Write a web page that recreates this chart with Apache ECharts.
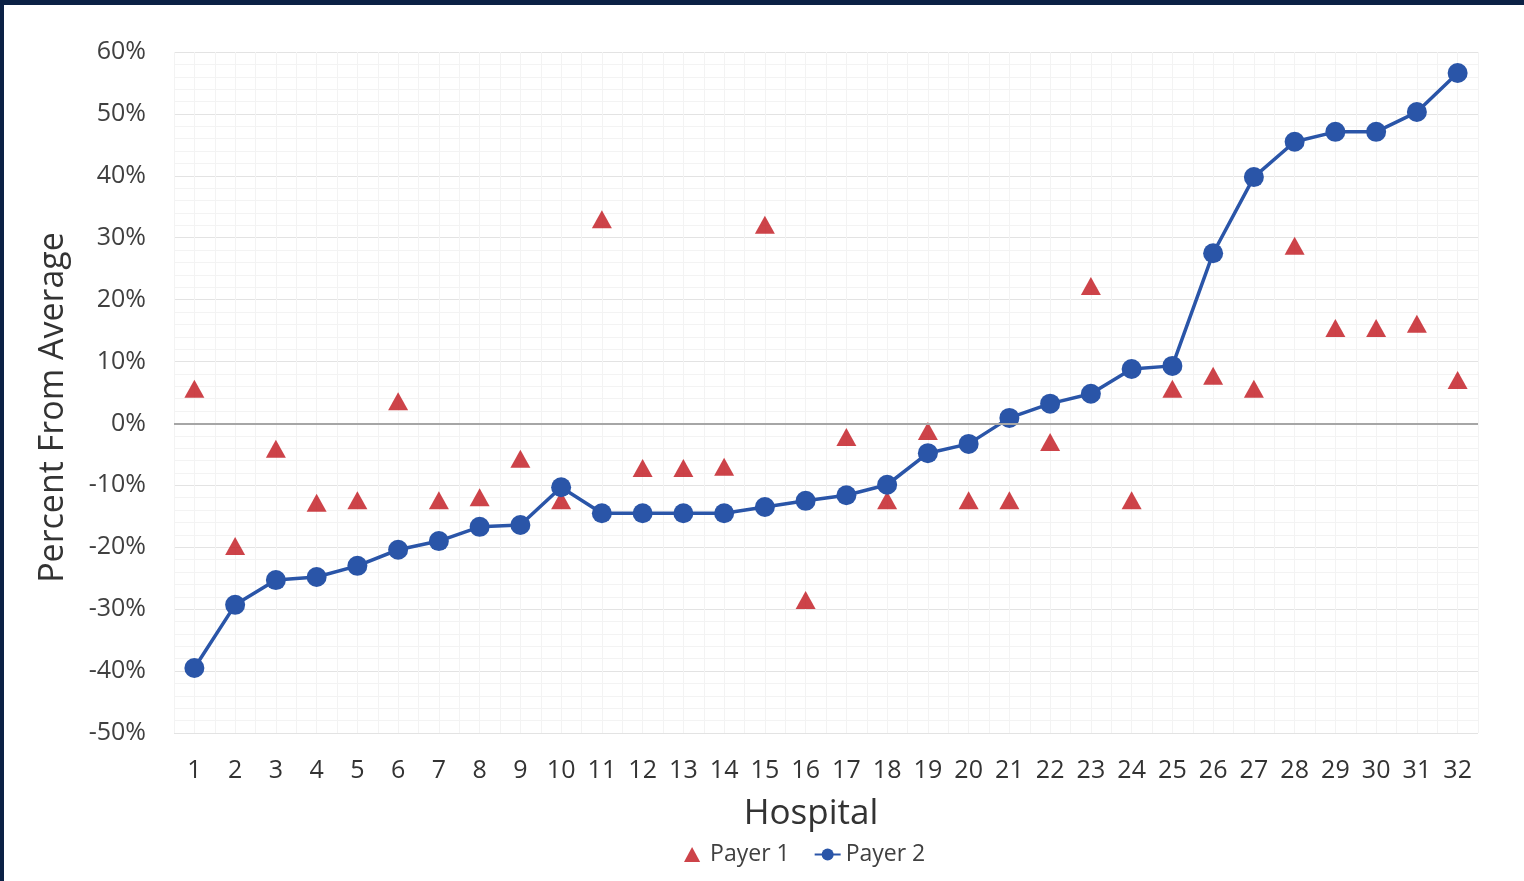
<!DOCTYPE html>
<html>
<head>
<meta charset="utf-8">
<script src="https://cdn.jsdelivr.net/npm/echarts@6/dist/echarts.min.js"></script>
<style>
html,body{margin:0;padding:0;background:#fff;}
#frame{position:absolute;left:0;top:0;width:1524px;height:881px;background:#fff;border-top:5px solid #0b2145;border-left:4px solid #0b2145;box-sizing:border-box;}
#chart{position:absolute;left:0;top:0;width:1524px;height:881px;}
</style>
</head>
<body>
<div id="frame"></div>
<div id="chart"></div>
<script>
const hospitals = ['1','2','3','4','5','6','7','8','9','10','11','12','13','14','15','16','17','18','19','20','21','22','23','24','25','26','27','28','29','30','31','32'];
const payer1 = [5.6,-19.8,-4.1,-12.8,-12.4,3.6,-12.4,-11.9,-5.7,-12.4,33.0,-7.2,-7.2,-7.0,32.1,-28.5,-2.2,-12.4,-1.2,-12.4,-12.4,-3.0,22.2,-12.4,5.6,7.7,5.6,28.7,15.4,15.4,16.1,7.0];
const payer2 = [-39.5,-29.3,-25.3,-24.8,-23.0,-20.4,-19.0,-16.7,-16.4,-10.3,-14.5,-14.5,-14.5,-14.5,-13.5,-12.5,-11.6,-9.9,-4.8,-3.3,0.9,3.2,4.8,8.8,9.3,27.5,39.8,45.5,47.1,47.1,50.3,56.6];
const halfSlots = hospitals.flatMap(h => [h + 'a', h + 'b']);

const RED = '#c0141c';
const BLUE = '#2a55a8';
const chart = echarts.init(document.getElementById('chart'), null, {renderer: 'canvas'});
const font = '"Open Sans", "Noto Sans", sans-serif';
chart.setOption({
  backgroundColor: 'transparent',
  animation: false,
  textStyle: {fontFamily: font},
  grid: {left: 174, right: 46, top: 52, bottom: 148},
  legend: {
    data: [{name: 'Payer 1', icon: 'path://M7,0 L14,13 L0,13 Z'}, {name: 'Payer 2'}],
    top: 838, left: 679,
    itemWidth: 26, itemHeight: 15, itemGap: 24,
    symbolKeepAspect: true,
    textStyle: {fontSize: 23, color: '#404040', fontFamily: font}
  },
  xAxis: [{
    type: 'category',
    data: hospitals,
    boundaryGap: true,
    name: 'Hospital',
    nameLocation: 'middle',
    nameGap: 64,
    nameTextStyle: {fontSize: 35, color: '#333', fontFamily: font, padding: [0, 30, 0, 0]},
    axisLine: {show: false, onZero: false},
    axisTick: {show: false},
    axisLabel: {fontSize: 25, color: '#333', margin: 25, interval: 0, fontFamily: font},
    splitLine: {show: true, interval: 0, lineStyle: {color: '#e6e6e6', width: 1}}
  }, {
    type: 'category',
    data: halfSlots,
    position: 'bottom',
    boundaryGap: true,
    show: true,
    axisLine: {show: false},
    axisTick: {show: false},
    axisLabel: {show: false},
    splitLine: {show: true, interval: 0, lineStyle: {color: '#f3f3f3', width: 1}}
  }],
  yAxis: {
    type: 'value',
    min: -50, max: 60, interval: 10,
    name: 'Percent From Average',
    nameLocation: 'middle',
    nameGap: 104,
    nameTextStyle: {fontSize: 34, color: '#333', fontFamily: font, padding: [0, 30, 0, 0]},
    axisLine: {show: false},
    axisTick: {show: false},
    axisLabel: {fontSize: 25, color: '#404040', margin: 28, formatter: v => v + '%', fontFamily: font},
    splitLine: {lineStyle: {color: '#e3e3e3', width: 1}},
    minorTick: {show: false, splitNumber: 5},
    minorSplitLine: {show: true, lineStyle: {color: '#f3f3f3', width: 1}}
  },
  series: [{
    name: 'Payer 1',
    type: 'scatter',
    data: payer1,
    symbol: 'triangle',
    symbolSize: [20, 18],
    itemStyle: {color: RED},
    z: 3,
    markLine: {
      silent: true,
      symbol: 'none',
      label: {show: false},
      lineStyle: {color: '#a6a6a6', width: 2, type: 'solid'},
      data: [{yAxis: 0}]
    }
  }, {
    name: 'Payer 2',
    type: 'line',
    data: payer2,
    symbol: 'circle',
    symbolSize: 20,
    lineStyle: {color: BLUE, width: 3.5},
    itemStyle: {color: BLUE},
    z: 4
  }]
});
</script>
</body>
</html>
